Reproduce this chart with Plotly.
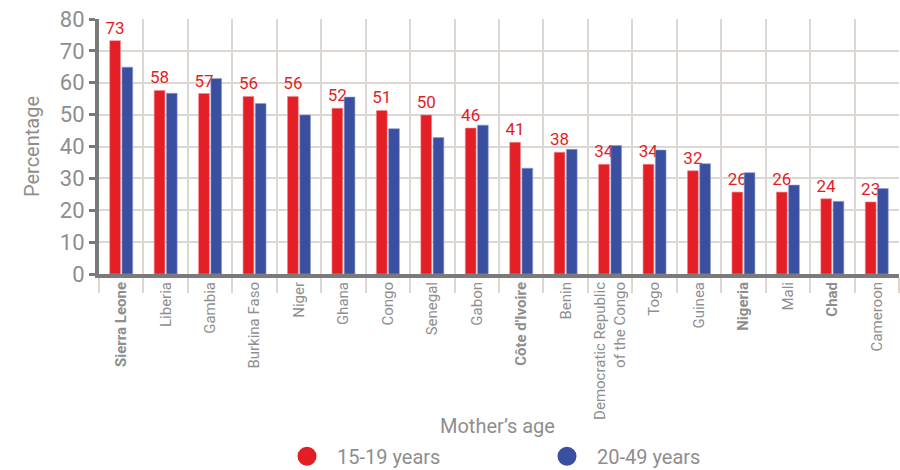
import plotly.graph_objects as go

countries = ["<b>Sierra Leone</b>", "Liberia", "Gambia", "Burkina Faso", "Niger", "Ghana",
             "Congo", "Senegal", "Gabon", "<b>Côte d'Ivoire</b>", "Benin",
             "Democratic Republic<br>of the Congo", "Togo", "Guinea", "<b>Nigeria</b>",
             "Mali", "<b>Chad</b>", "Cameroon"]
teen = [73.2, 57.6, 56.6, 55.7, 55.7, 52.0, 51.3, 49.9, 45.8, 41.3, 38.2,
        34.4, 34.4, 32.4, 25.7, 25.7, 23.6, 22.6]
adult = [64.9, 56.7, 61.3, 53.5, 49.9, 55.5, 45.6, 42.8, 46.7, 33.2, 39.1,
         40.3, 38.9, 34.6, 31.8, 27.9, 22.8, 26.8]
y_ticks = [0, 10, 20, 30, 40, 50, 60, 70, 80]

RED = "#e31e24"
BLUE = "#3a4fa0"
GRAY = "#8e8e8e"
AXIS = "#7a7a7a"
GRID = "#dcd7d2"
FONT = "Roboto, sans-serif"

fig = go.Figure()
fig.add_trace(go.Bar(x=countries, y=teen, name="15-19 years", marker_color=RED,
                     marker_line=dict(color="#f08a8d", width=0.6),
                     texttemplate="%{y:.0f}", textposition="outside",
                     textfont=dict(color=RED, size=17, family=FONT),
                     constraintext="none", cliponaxis=False, showlegend=False))
fig.add_trace(go.Bar(x=countries, y=adult, name="20-49 years", marker_color=BLUE,
                     marker_line=dict(color="#8f9dd0", width=0.6), showlegend=False))
# legend entries with circular markers
fig.add_trace(go.Scatter(x=[None], y=[None], mode="markers", name="15-19 years",
                         marker=dict(color=RED, size=20, symbol="circle",
                                     line=dict(color=RED, width=3))))
fig.add_trace(go.Scatter(x=[None], y=[None], mode="markers", name="20-49 years",
                         marker=dict(color=BLUE, size=20, symbol="circle",
                                     line=dict(color=BLUE, width=3))))

fig.update_layout(
    width=900, height=477,
    margin=dict(l=99, r=1, t=19, b=198),
    paper_bgcolor="white", plot_bgcolor="white",
    barmode="group", bargap=0.45, bargroupgap=0.12,
    font=dict(family=FONT, color=GRAY),
    hovermode=False,
    showlegend=True,
    legend=dict(orientation="h", x=0.2225, xanchor="left", y=-0.715, yanchor="middle",
                font=dict(size=20, color=GRAY, family=FONT),
                entrywidth=195, itemsizing="trace", itemwidth=50),
)
fig.update_xaxes(
    automargin=False,
    tickangle=-90, tickson="boundaries", ticks="outside", ticklen=15,
    tickcolor=GRID, tickwidth=1.5,
    showgrid=True, gridcolor=GRID, gridwidth=1.5,
    showline=True, linecolor=AXIS, linewidth=4,
    tickfont=dict(size=15, color=GRAY, family=FONT),
    ticklabelstandoff=-2,
)
fig.update_yaxes(
    automargin=False, ticklabeloverflow="allow",
    range=[0, 80], tickvals=y_ticks, ticks="outside", ticklen=6, tickwidth=3,
    tickcolor=AXIS, showgrid=True, gridcolor=GRID, gridwidth=1.5,
    showline=True, linecolor=AXIS, linewidth=4, zeroline=False,
    tickfont=dict(size=22, color=GRAY, family=FONT),
    title=dict(text="Percentage", font=dict(size=20, color=GRAY, family=FONT), standoff=16),
)
fig.add_annotation(text="Mother’s age", xref="paper", yref="paper", x=0.498, y=-0.595,
                   xanchor="center", yanchor="middle", showarrow=False,
                   font=dict(size=20, color=GRAY, family=FONT))

# remove the browser's default 8px page margin so the figure fills the window exactly
fig.write_html("out.html",
               config={"displayModeBar": False},
               post_script="document.body.style.margin='0';"
                           "document.documentElement.style.overflow='hidden';")
